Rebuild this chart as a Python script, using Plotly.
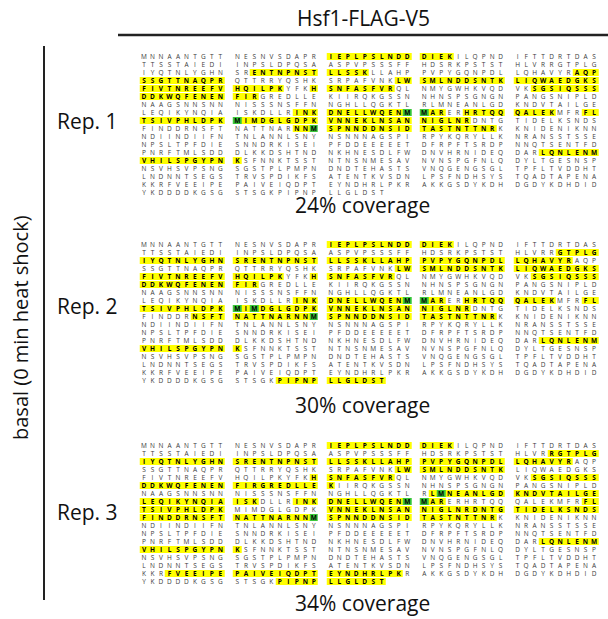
import numpy as np
import plotly.graph_objects as go

# ---------------- data ----------------
title_text = "Hsf1-FLAG-V5"
condition_text = "basal (0 min heat shock)"
rep_labels = ["Rep. 1", "Rep. 2", "Rep. 3"]
coverage_pct = [24, 30, 34]

# protein sequence (Hsf1 + 3xFLAG + V5), shown 50 residues per row in blocks of 10
sequence_rows = [
    "MNNAANTGTTNESNVSDAPRIEPLPSLNDDDIEKILQPNDIFTTDRTDAS",
    "TTSSTAIEDIINPSLDPQSAASPVPSSSFFHDSRKPSTSTHLVRRGTPLG",
    "IYQTNLYGHNSRENTNPNSTLLSSKLLAHPPVPYGQNPDLLQHAVYRAQP",
    "SSGTTNAQPRQTTRRYQSHKSRPAFVNKLWSMLNDDSNTKLIQWAEDGKS",
    "FIVTNREEFVHQILPKYFKHSNFASFVRQLNMYGWHKVQDVKSGSIQSSS",
    "DDKWQFENENFIRGREDLLEKIIRQKGSSNNHNSPSGNGNPANGSNIPLD",
    "NAAGSNNSNNNISSSNSFFNNGHLLQGKTLRLMNEANLGDKNDVTAILGE",
    "LEQIKYNQIAISKDLLRINKDNELLWQENMMARERHRTQQQALEKMFRFL",
    "TSIVPHLDPKMIMDGLGDPKVNNEKLNSANNIGLNRDNTGTIDELKSNDS",
    "FINDDRNSFTNATTNARNNMSPNNDDNSIDTASTNTTNRKKNIDENIKNN",
    "NDIINDIIFNTNLANNLSNYNSNNNAGSPIRPYKQRYLLKNRANSSTSSE",
    "NPSLTPFDIESNNDRKISEIPFDDEEEEETDFRPFTSRDPNNQTSENTFD",
    "PNRFTMLSDDDLKKDSHTNDNKHNESDLFWDNVHRNIDEQDARLQNLENM",
    "VHILSPGYPNKSFNNKTSSTNTNSNMESAVNVNSPGFNLQDYLTGESNSP",
    "NSVHSVPSNGSGSTPLPMPNDNDTEHASTSVNQGENGSGLTPFLTVDDHT",
    "LNDNNTSEGSTRVSPDIKFSATENTKVSDNLPSFNDHSYSTQADTAPENA",
    "KKRFVEEIPEPAIVEIQDPTEYNDHRLPKRAKKGSDYKDHDGDYKDHDID",
    "YKDDDDKGSGSTSGKPIPNPLLGLDST",
]

# identified peptides per replicate (lowercase m = oxidised methionine, shown green)
rep1_peptides = [
    "IEPLPSLNDDDIEK", "ENTNPNSTLLSSK", "AQPSSGTTNAQPR", "LWSMLNDDSNTK",
    "LIQWAEDGKSFIVTNREEFVHQILPK", "HSNFASFVR", "SGSIQSSSDDKWQFENENFIR",
    "INKDNELLWQENmmAR", "HRTQQQALEK",
    "FLTSIVPHLDPKmIMDGLGDPKVNNEKLNSANNIGLNR",
    "NNmSPNNDDNSIDTASTNTTNR", "LQNLENMVHILSPGYPNK",
]
rep2_peptides = [
    "IEPLPSLNDDDIEK",
    "GTPLGIYQTNLYGHNSRENTNPNSTLLSSKLLAHPPVPYGQNPDLLQHAVYR",
    "LWSMLNDDSNTKLIQWAEDGKSFIVTNREEFVHQILPK", "HSNFASFVR",
    "SGSIQSSSDDKWQFENENFIR", "INKDNELLWQENmmAR", "HRTQQQALEK",
    "FLTSIVPHLDPKmImDGLGDPKVNNEKLNSANNIGLNR",
    "NSFTNATTNARNNmSPNNDDNSIDTASTNTTNR", "LQNLENMVHILSPGYPNK",
    "PIPNPLLGLDST",
]
rep3_peptides = [
    "IEPLPSLNDDDIEK",
    "RGTPLGIYQTNLYGHNSRENTNPNSTLLSSKLLAHPPVPYGQNPDLLQHAVYR",
    "LWSMLNDDSNTK", "HSNFASFVR", "SGSIQSSSDDKWQFENENFIRGREDLLEK",
    "LmNEANLGDKNDVTAILGELEQIKYNQIAISK", "INKDNELLWQENmmAR",
    "FLTSIVPHLDPK",
    "VNNEKLNSANNIGLNRDNTGTIDELKSNDSFINDDRNSFTNATTNARNNmSPNNDDNSIDTASTNTTNR",
    "LQNLENMVHILSPGYPNK", "FVEEIPEPAIVEIQDPTEYNDHRLPK", "PIPNPLLGLDST",
]
rep_peptides = [rep1_peptides, rep2_peptides, rep3_peptides]

# ---------------- build ----------------
seq = "".join(sequence_rows)
PER_ROW, CHUNK = 50, 10
n_rows = len(sequence_rows)
idx = np.arange(len(seq))
rows = idx // PER_ROW
xs = ((idx % PER_ROW) // CHUNK) * (CHUNK + 1) + (idx % CHUNK)
n_x = int(xs.max()) + 1
letters = np.array(list(seq))

YELLOW = "#FFFF00"
GREEN = "#3CC83C"
FONT = "Open Sans"

fig = go.Figure()

W, H = 608, 619
block_top_px = [57, 245, 446]   # centre of first row for each replicate
row_px = 8.0

for r, peps in enumerate(rep_peptides):
    mask = np.zeros(len(seq), dtype=int)
    for p in peps:
        start = seq.find(p.upper())
        assert start >= 0, p
        for k, ch in enumerate(p):
            mask[start + k] = max(mask[start + k], 2 if ch == "m" else 1)
    z = np.full((n_rows, n_x), np.nan)
    z[rows[mask > 0], xs[mask > 0]] = mask[mask > 0]
    yname = "y" if r == 0 else f"y{r + 1}"
    fig.add_trace(go.Heatmap(
        z=z, x=np.arange(n_x), y=np.arange(n_rows),
        colorscale=[[0, YELLOW], [0.5, YELLOW], [0.5, GREEN], [1, GREEN]],
        zmin=1, zmax=2, showscale=False, ygap=1, hoverinfo="skip",
        xaxis="x", yaxis=yname))
    plain = mask == 0
    fig.add_trace(go.Scatter(
        x=xs[plain], y=rows[plain], text=letters[plain], mode="text",
        textposition="middle center",
        textfont=dict(family=FONT, size=6.5, color="#3a3a3a"),
        hoverinfo="skip", showlegend=False, xaxis="x", yaxis=yname))
    fig.add_trace(go.Scatter(
        x=xs[~plain], y=rows[~plain], text=letters[~plain], mode="text",
        textposition="middle center",
        textfont=dict(family=FONT, size=6.5, color="#000000", weight="bold"),
        hoverinfo="skip", showlegend=False, xaxis="x", yaxis=yname))

# axes: 1 x-unit per character slot
first_px, last_px = 144, 594
k = (last_px - first_px) / (n_x - 1)
xmin = -first_px / k
xmax = xmin + W / k
layout_axes = {}
layout_axes["xaxis"] = dict(range=[xmin, xmax], domain=[0, 1], visible=False,
                            fixedrange=True)
for r, top in enumerate(block_top_px):
    top_edge = top - row_px / 2
    bot_edge = top + (n_rows - 0.5) * row_px
    key = "yaxis" if r == 0 else f"yaxis{r + 1}"
    layout_axes[key] = dict(domain=[1 - bot_edge / H, 1 - top_edge / H],
                            range=[n_rows - 0.5, -0.5], visible=False,
                            anchor="x", fixedrange=True)

annotations = [
    dict(text=title_text, x=363 / W, y=1 - 18 / H, xref="paper", yref="paper",
         showarrow=False, xanchor="center", yanchor="middle",
         font=dict(family=FONT, size=21, color="#111")),
    dict(text=condition_text, x=20 / W, y=1 - 328 / H, xref="paper",
         yref="paper", showarrow=False, textangle=-90, xanchor="center",
         yanchor="middle", font=dict(family=FONT, size=20, color="#111")),
]
label_y = [121, 306, 512]
caption_y = [205, 405, 603]
for r in range(3):
    annotations.append(dict(text=rep_labels[r], x=120 / W, y=1 - label_y[r] / H,
                            xref="paper", yref="paper", showarrow=False,
                            xanchor="right", yanchor="middle",
                            font=dict(family=FONT, size=21, color="#111")))
    annotations.append(dict(text=f"{coverage_pct[r]}% coverage", x=362 / W,
                            y=1 - caption_y[r] / H, xref="paper", yref="paper",
                            showarrow=False, xanchor="center", yanchor="middle",
                            font=dict(family=FONT, size=21, color="#111")))

shapes = [
    dict(type="line", xref="paper", yref="paper", x0=118 / W, x1=1,
         y0=1 - 35 / H, y1=1 - 35 / H, line=dict(color="#222", width=2.5)),
    dict(type="line", xref="paper", yref="paper", x0=44 / W, x1=44 / W,
         y0=1 - 46 / H, y1=1 - 600 / H, line=dict(color="#222", width=2)),
]

fig.update_layout(width=W, height=H, margin=dict(l=0, r=0, t=0, b=0),
                  paper_bgcolor="white", plot_bgcolor="white",
                  showlegend=False, annotations=annotations, shapes=shapes,
                  **layout_axes)

fig.write_html("out.html")
